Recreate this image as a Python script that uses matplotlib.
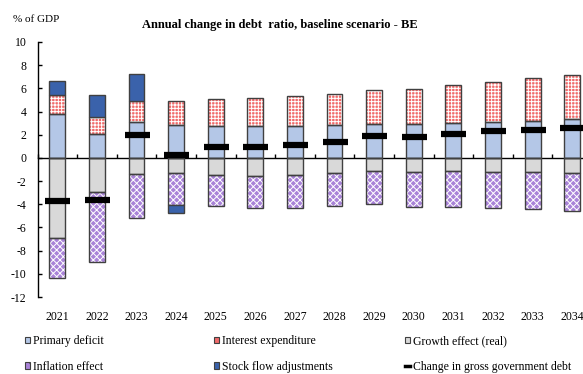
import matplotlib
matplotlib.use("Agg")
import matplotlib.pyplot as plt
import matplotlib.patches as mpatches
import matplotlib.lines as mlines
import numpy as np

plt.rcParams['hatch.linewidth'] = 0.7

years = ["2021", "2022", "2023", "2024", "2025", "2026", "2027",
         "2028", "2029", "2030", "2031", "2032", "2033", "2034"]
primary_deficit = [3.75, 2.04, 3.12, 2.83, 2.75, 2.72, 2.75, 2.83, 2.92, 2.92, 3.04, 3.12, 3.21, 3.32]
interest_exp = [1.65, 1.51, 1.77, 2.12, 2.31, 2.43, 2.57, 2.69, 2.94, 3.03, 3.28, 3.43, 3.71, 3.80]
growth_effect = [-6.95, -2.90, -1.41, -1.33, -1.50, -1.58, -1.50, -1.33, -1.13, -1.22, -1.13, -1.22, -1.22, -1.33]
inflation_effect = [-3.45, -6.10, -3.77, -2.77, -2.63, -2.74, -2.82, -2.80, -2.88, -2.99, -3.08, -3.10, -3.19, -3.25]
stock_flow = [1.26, 1.85, 2.31, -0.63, 0.0, 0.0, 0.0, 0.0, 0.0, 0.0, 0.0, 0.0, 0.0, 0.0]
change_debt = [-3.76, -3.60, 1.98, 0.21, 0.92, 0.92, 1.12, 1.41, 1.89, 1.81, 2.10, 2.32, 2.41, 2.61]

W, H = 583, 374
fig = plt.figure(figsize=(W / 100, H / 100), dpi=100)
ax = fig.add_axes([37.5 / W, (H - 297) / H, (592 - 37.5) / W, (297 - 42) / H])

serif = "Liberation Serif"
x = np.arange(len(years))
bw = 0.40
edge = "#404040"

c_pd = "#B4C7E7"
c_ie = "#F06A6A"
c_ge = "#D9D9D9"
c_inf = "#A983D8"
c_sf = "#3A62AB"

pd_ = np.array(primary_deficit)
ie = np.array(interest_exp)
ge = np.array(growth_effect)
inf = np.array(inflation_effect)
sf = np.array(stock_flow)

pos_base = np.zeros(len(years))
neg_base = np.zeros(len(years))

def stack(vals, **kw):
    global pos_base, neg_base
    vals = np.asarray(vals)
    bottoms = np.where(vals >= 0, pos_base, neg_base)
    ax.bar(x, vals, bw, bottom=bottoms, zorder=2, **kw)
    ax.bar(x, vals, bw, bottom=bottoms, fill=False, edgecolor=edge, linewidth=1.0, zorder=3)
    pos_base = pos_base + np.where(vals >= 0, vals, 0)
    neg_base = neg_base + np.where(vals < 0, vals, 0)

stack(pd_, color=c_pd, linewidth=0)
stack(ie, facecolor=c_ie, edgecolor="white", hatch="+++++", linewidth=0)
stack(ge, color=c_ge, linewidth=0)
stack(inf, facecolor=c_inf, edgecolor="white", hatch="xxxxx", linewidth=0)
mask = sf != 0
ax.bar(x[mask], sf[mask], bw, bottom=np.where(sf >= 0, pos_base, neg_base)[mask],
       color=c_sf, edgecolor=edge, linewidth=1.0, zorder=3)

ax.scatter(x, change_debt, marker="_", s=18 ** 2, linewidths=4.5, color="black", zorder=5)

ax.set_xlim(-0.5, len(years) - 0.5)
ax.set_ylim(-12, 10)
ax.set_yticks(np.arange(-12, 11, 2))
ax.set_yticklabels([str(v) for v in range(-12, 11, 2)], fontfamily=serif, fontsize=8.5)
ax.tick_params(axis="y", direction="in", length=3, width=1, pad=8, colors="black")

ax.spines["top"].set_visible(False)
ax.spines["right"].set_visible(False)
ax.spines["bottom"].set_position(("data", 0))
ax.spines["left"].set_linewidth(1)
ax.spines["bottom"].set_linewidth(1)
ax.set_xticks(np.arange(-0.5, len(years), 1.0))
ax.set_xticklabels([])
ax.tick_params(axis="x", direction="in", length=3, width=1)

for xi, yr in zip(x, years):
    ax.text(xi, -20 / 255, yr, transform=ax.get_xaxis_transform(), ha="center", va="center",
            fontfamily=serif, fontsize=8.5, clip_on=False)

fig.text(13 / W, 1 - 20 / H, "% of GDP", fontfamily=serif, fontsize=8, ha="left", va="center")
fig.text(280 / W, 1 - 25 / H, "Annual change in debt  ratio, baseline scenario - BE",
         fontfamily=serif, fontsize=9, fontweight="bold", ha="center", va="center")

def sq(**kw):
    return mpatches.Patch(edgecolor=edge, linewidth=0.8, **kw)

h_pd = sq(facecolor=c_pd)
h_ie = sq(facecolor=c_ie, hatch="++")
h_ge = sq(facecolor=c_ge)
h_inf = sq(facecolor=c_inf, hatch="xx")
h_sf = sq(facecolor=c_sf)
h_cd = mlines.Line2D([], [], color="black", linewidth=2.5)

cols = [
    (25, [h_pd, h_inf], ["Primary deficit", "Inflation effect"]),
    (214, [h_ie, h_sf], ["Interest expenditure", "Stock flow adjustments"]),
    (405, [h_ge, h_cd], ["Growth effect (real)", "Change in gross government debt"]),
]
for xp, hs, ls in cols:
    fig.legend(hs, ls, loc="upper left", bbox_to_anchor=(xp / W, 1 - 335 / H),
               frameon=False, handlelength=0.45, handleheight=0.45, handletextpad=0.2,
               labelspacing=1.17, borderpad=0, borderaxespad=0,
               prop={"family": serif, "size": 8.5})

fig.savefig("out.png", dpi=100)
